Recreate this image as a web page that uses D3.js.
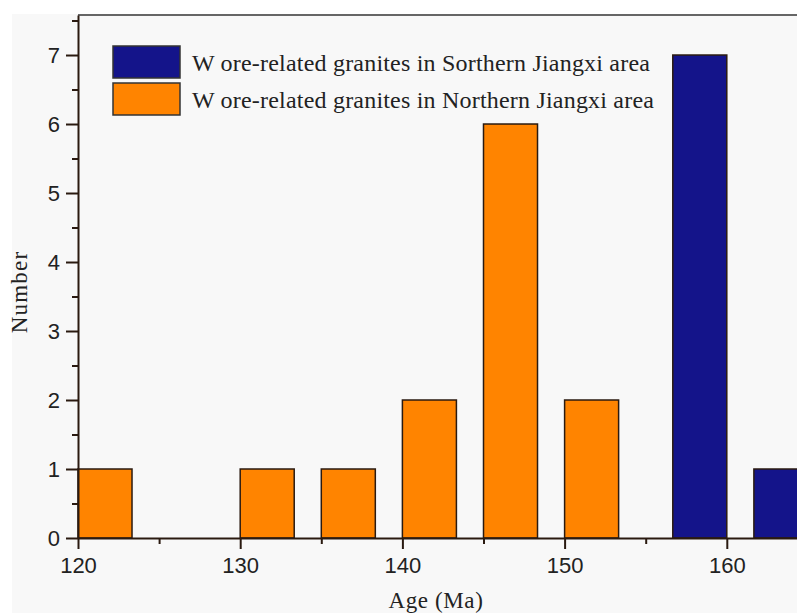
<!DOCTYPE html>
<html>
<head>
<meta charset="utf-8">
<script src="https://cdn.jsdelivr.net/npm/d3@7/dist/d3.min.js"></script>
<style>
  body { margin: 0; background: #fff; }
</style>
</head>
<body>
<div id="chart"></div>
<script>
// bins (Ma) and counts
const southStart = [156.67, 161.67];
const southEnd = [160, 165];
const southCount = [7, 1];

const northStart = [120, 130, 135, 140, 145, 150];
const northEnd = [123.33, 133.33, 138.33, 143.33, 148.33, 153.33];
const northCount = [1, 1, 1, 2, 6, 2];

const xTicks = [120, 130, 140, 150, 160];
const yTicks = [0, 1, 2, 3, 4, 5, 6, 7];

const legendLabels = [
    "W ore-related granites in Sorthern Jiangxi area",
    "W ore-related granites in Northern Jiangxi area"
];
const colors = ["#14148a", "#ff8400"];

const width = 797, height = 613;

let svg = d3.select("#chart")
    .append("svg")
    .attr("width", width)
    .attr("height", height);

// light grey backdrop of the original figure
svg.append("rect")
    .attr("x", 12).attr("y", 14)
    .attr("width", width - 12).attr("height", height - 14)
    .attr("fill", "#f8f8f8");

let x = d3.scaleLinear().domain([120, 165]).range([78, 78 + 45 * 16.22]);
let y = d3.scaleLinear().domain([0, 7.58]).range([538, 15]);

// top frame line
svg.append("line")
    .attr("x1", 78).attr("x2", width)
    .attr("y1", 15).attr("y2", 15)
    .attr("stroke", "#666").attr("stroke-width", 2);

const makeBars = (starts, ends, counts, color) => {
    svg.append("g")
        .selectAll("rect")
        .data(counts)
        .enter()
        .append("rect")
        .attr("x", (d, i) => x(starts[i]))
        .attr("width", (d, i) => x(ends[i]) - x(starts[i]))
        .attr("y", d => y(d))
        .attr("height", d => y(0) - y(d))
        .attr("fill", color)
        .attr("stroke", "#2a1a10")
        .attr("stroke-width", 1.5);
};
makeBars(northStart, northEnd, northCount, colors[1]);
makeBars(southStart, southEnd, southCount, colors[0]);

// axes
let xAxis = svg.append("g")
    .attr("transform", "translate(0," + y(0) + ")")
    .call(d3.axisBottom(x).tickValues(xTicks).tickSize(11).tickSizeOuter(0).tickPadding(8));
let xMinor = svg.append("g")
    .attr("transform", "translate(0," + y(0) + ")")
    .call(d3.axisBottom(x).tickValues([125, 135, 145, 155, 165]).tickSize(6).tickFormat(""));
xMinor.select(".domain").remove();

let yAxis = svg.append("g")
    .attr("transform", "translate(" + x(120) + ",0)")
    .call(d3.axisLeft(y).tickValues(yTicks).tickSize(12).tickSizeOuter(0).tickPadding(6));
let yMinor = svg.append("g")
    .attr("transform", "translate(" + x(120) + ",0)")
    .call(d3.axisLeft(y).tickValues([0.5, 1.5, 2.5, 3.5, 4.5, 5.5, 6.5, 7.5]).tickSize(6).tickFormat(""));
yMinor.select(".domain").remove();

svg.selectAll(".domain, .tick line")
    .attr("stroke", "#2a1a10")
    .attr("stroke-width", 2);

xAxis.selectAll("text")
    .attr("font-family", "Liberation Sans, Arial, sans-serif")
    .attr("font-size", 22)
    .attr("fill", "#222");
yAxis.selectAll("text")
    .attr("font-family", "Liberation Sans, Arial, sans-serif")
    .attr("font-size", 22)
    .attr("fill", "#222")
    .attr("dy", "0.36em");

// axis titles
svg.append("text")
    .attr("x", 436).attr("y", 608)
    .attr("text-anchor", "middle")
    .attr("font-family", "Liberation Serif, Times New Roman, serif")
    .attr("font-size", 23)
    .attr("letter-spacing", 0.6)
    .attr("fill", "#222")
    .text("Age (Ma)");

svg.append("text")
    .attr("transform", "translate(27,292) rotate(-90)")
    .attr("text-anchor", "middle")
    .attr("font-family", "Liberation Serif, Times New Roman, serif")
    .attr("font-size", 23)
    .attr("letter-spacing", 1.2)
    .attr("fill", "#222")
    .text("Number");

// legend
let legend = svg.append("g")
    .selectAll("g")
    .data(legendLabels)
    .enter()
    .append("g")
    .attr("transform", (d, i) => "translate(113," + (46 + i * 37) + ")");

legend.append("rect")
    .attr("width", 67).attr("height", 32)
    .attr("fill", (d, i) => colors[i])
    .attr("stroke", "#333")
    .attr("stroke-width", 1.5);

legend.append("text")
    .attr("x", 79).attr("y", 25)
    .attr("font-family", "Liberation Serif, Times New Roman, serif")
    .attr("font-size", 24)
    .attr("letter-spacing", 0.2)
    .attr("fill", "#222")
    .text(d => d);
</script>
</body>
</html>
